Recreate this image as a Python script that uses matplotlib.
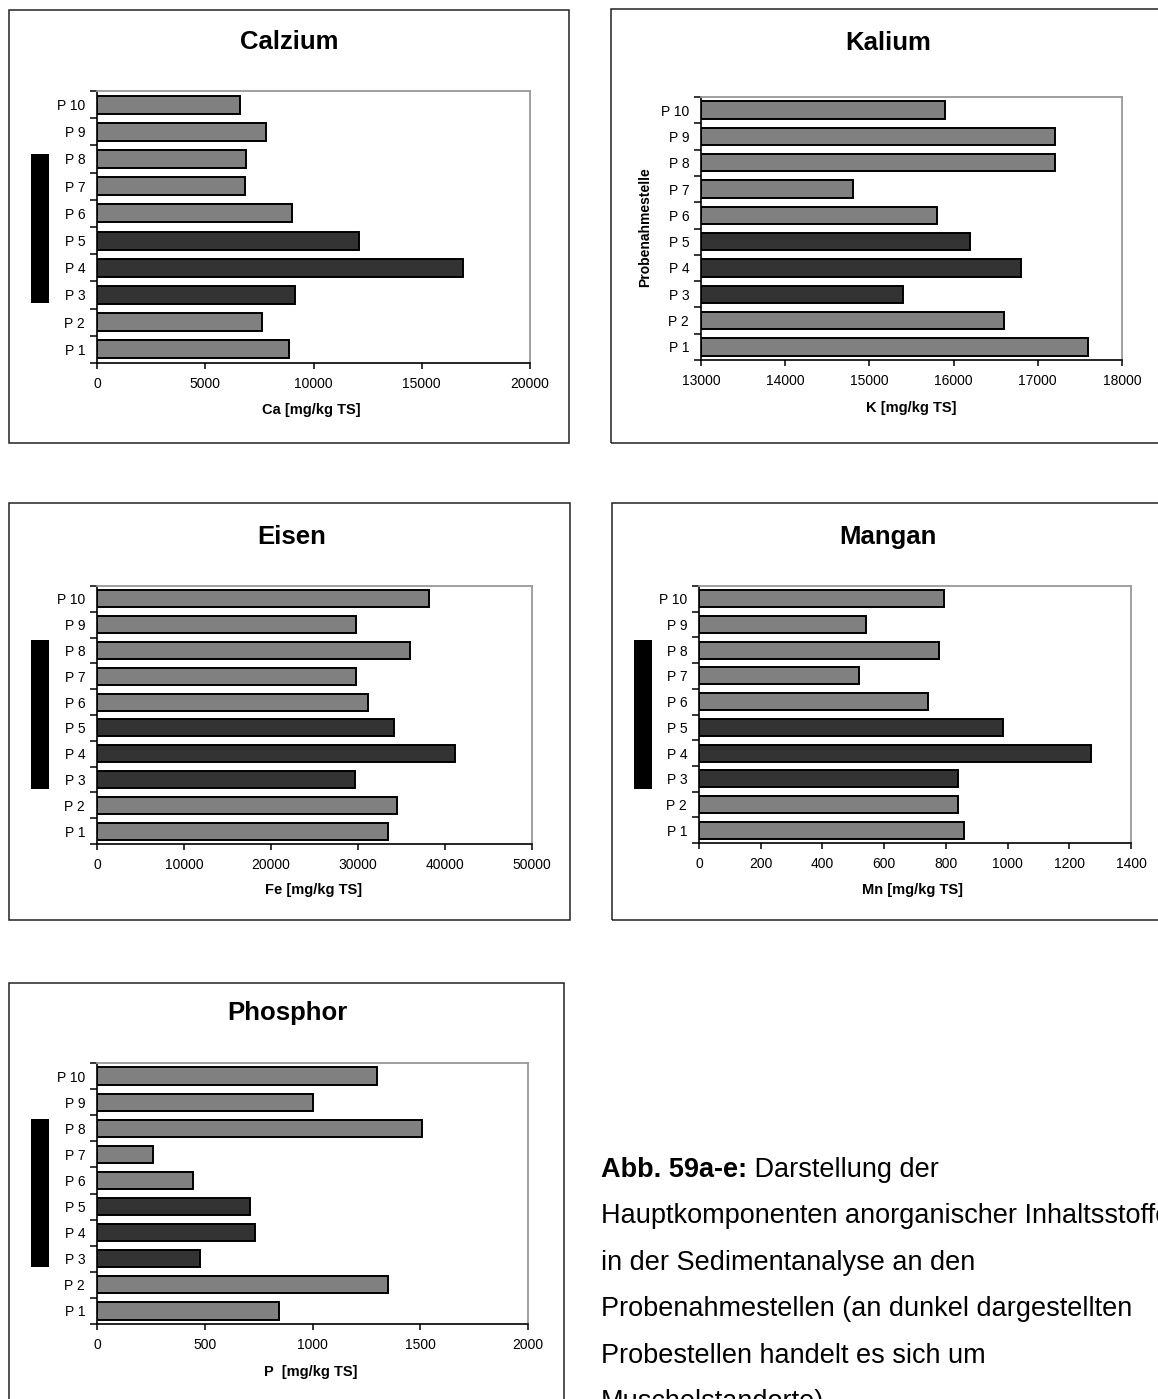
import matplotlib.pyplot as plt
from matplotlib.patches import Rectangle
import numpy as np

plt.rcParams['font.family'] = ['Liberation Sans', 'DejaVu Sans']

W, H = 1158, 1399

# Probenahmestellen, P 1 unten
stations = ["P 1", "P 2", "P 3", "P 4", "P 5", "P 6", "P 7", "P 8", "P 9", "P 10"]
mussel_sites = ["P 3", "P 4", "P 5"]

calcium = [8870, 7600, 9150, 16900, 12100, 9000, 6850, 6900, 7800, 6600]
potassium = [17600, 16600, 15400, 16800, 16200, 15800, 14800, 17200, 17200, 15900]
iron = [33500, 34500, 29700, 41100, 34100, 31100, 29800, 36000, 29800, 38200]
manganese = [860, 840, 840, 1271, 986, 742, 520, 778, 540, 795]
phosphorus = [845, 1351, 480, 732, 711, 447, 262, 1508, 1000, 1300]

caption_lines = [
    "Hauptkomponenten anorganischer Inhaltsstoffe",
    "in der Sedimentanalyse an den",
    "Probenahmestellen (an dunkel dargestellten",
    "Probestellen handelt es sich um",
    "Muschelstandorte)",
]


def fig_rect(x0, y0, x1, y1):
    # pixel box -> figure fraction [left, bottom, width, height]
    return [x0 / W, 1 - y1 / H, (x1 - x0) / W, (y1 - y0) / H]


def fx(x):
    return x / W


def fy(y):
    return 1 - y / H


def panel(fig, values, title, xlabel, xlim, step, ax_px, frame_px,
          title_xy, xlabel_xy, marker_px=None, ylabel=None, ylabel_xy=None):
    fig.add_artist(Rectangle((fx(frame_px[0]), fy(frame_px[3])),
                             (frame_px[2] - frame_px[0]) / W,
                             (frame_px[3] - frame_px[1]) / H,
                             transform=fig.transFigure, fill=False,
                             edgecolor='#222222', linewidth=1.1))
    ax = fig.add_axes(fig_rect(*ax_px))

    y = np.arange(1, len(stations) + 1)
    colors = ['#333333' if s in mussel_sites else '#808080' for s in stations]
    base = xlim[0]
    ax.barh(y, np.array(values) - base, left=base, height=0.66,
            color=colors, edgecolor='black', linewidth=1.4)

    ax.set_xlim(xlim)
    ax.set_ylim(0.5, len(stations) + 0.5)
    xt = np.arange(xlim[0], xlim[1] + 1, step)
    ax.set_xticks(xt, [str(int(v)) for v in xt])
    ax.set_yticks(np.arange(0.5, len(stations) + 1, 1))
    ax.set_yticks(y, stations, minor=True)
    ax.tick_params(axis='y', which='major', length=5, width=1.1,
                   direction='out', labelleft=False)
    ax.tick_params(axis='y', which='minor', length=0, pad=8.5, labelsize=10)
    ax.tick_params(axis='x', length=4, width=1.1, direction='out', pad=6,
                   labelsize=10)
    for side in ('top', 'right'):
        ax.spines[side].set_color('#999999')
        ax.spines[side].set_linewidth(1.3)
    for side in ('left', 'bottom'):
        ax.spines[side].set_color('black')
        ax.spines[side].set_linewidth(1.2)

    fig.text(fx(title_xy[0]), fy(title_xy[1]), title, fontsize=18.5,
             fontweight='bold', ha='center', va='center')
    fig.text(fx(xlabel_xy[0]), fy(xlabel_xy[1]), xlabel, fontsize=10.5,
             fontweight='bold', ha='center', va='center')
    if ylabel:
        fig.text(fx(ylabel_xy[0]), fy(ylabel_xy[1]), ylabel, fontsize=10,
                 fontweight='bold', ha='center', va='center', rotation=90)
    if marker_px:
        fig.add_artist(Rectangle((fx(marker_px[0]), fy(marker_px[3])),
                                 (marker_px[2] - marker_px[0]) / W,
                                 (marker_px[3] - marker_px[1]) / H,
                                 transform=fig.transFigure,
                                 facecolor='black', edgecolor='none'))
    return ax


fig = plt.figure(figsize=(W / 100, H / 100), dpi=100)

panel(fig, calcium, "Calzium", "Ca [mg/kg TS]", (0, 20000), 5000,
      (97, 91, 530, 363), (9, 10, 569, 443), (289, 42), (311, 410),
      marker_px=(31, 154, 49, 303))

panel(fig, potassium, "Kalium", "K [mg/kg TS]", (13000, 18000), 1000,
      (701, 97, 1122, 360), (611, 9, 1175, 443), (888, 43), (911, 408),
      ylabel="Probenahmestelle", ylabel_xy=(645, 227))

panel(fig, iron, "Eisen", "Fe [mg/kg TS]", (0, 50000), 10000,
      (97, 586, 532, 844), (9, 503, 570, 920), (292, 537), (314, 890),
      marker_px=(31, 640, 49, 789))

panel(fig, manganese, "Mangan", "Mn [mg/kg TS]", (0, 1400), 200,
      (699, 586, 1131, 843), (612, 503, 1175, 920), (888, 537), (913, 890),
      marker_px=(634, 640, 652, 789))

ax_p = panel(fig, phosphorus, "Phosphor", "P  [mg/kg TS]", (0, 2000), 500,
             (97, 1063, 528, 1324), (9, 983, 564, 1430), (287, 1013), (311, 1372),
             marker_px=(31, 1119, 49, 1267))

# Bildunterschrift
cap_size = 19.5
head = fig.text(fx(601), fy(1177), "Abb. 59a-e:", fontsize=cap_size,
                fontweight='bold', ha='left', va='baseline')
ax_p.annotate(" Darstellung der", xy=(1, 0), xycoords=head,
              fontsize=cap_size, ha='left', va='bottom',
              annotation_clip=False)
for i, line in enumerate(caption_lines):
    fig.text(fx(601), fy(1223.4 + i * 46.4), line, fontsize=cap_size,
             ha='left', va='baseline')

fig.savefig("out.png", dpi=100)
